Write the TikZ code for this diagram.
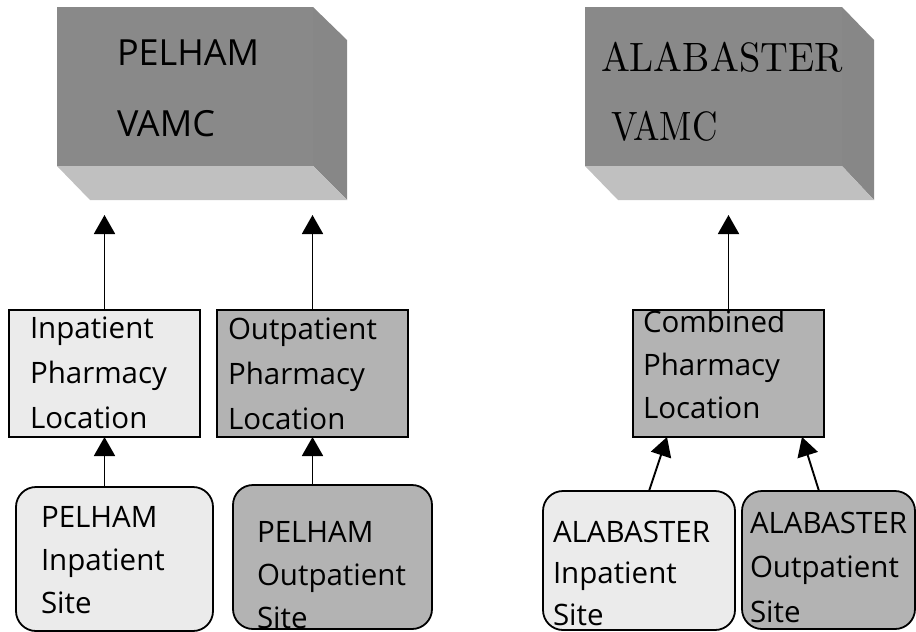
\documentclass[tikz,border=0pt]{standalone}
\usepackage{fontspec}
\usepackage{graphicx}
\newfontfamily\uifont{Open Sans}
\newfontfamily\lmten{lmroman10-regular.otf}
\usetikzlibrary{arrows.meta}
\definecolor{boxfront}{HTML}{898989}
\definecolor{boxside}{HTML}{878787}
\definecolor{boxbottom}{HTML}{C0C0C0}
\definecolor{lightfill}{HTML}{EBEBEB}
\definecolor{midfill}{HTML}{B3B3B3}
\tikzset{
  front/.style={fill=boxfront, inner sep=0pt, outer sep=0pt, minimum width=256pt, minimum height=159pt},
  locbox/.style={draw=black, line width=1.8pt, inner sep=0pt, outer sep=0pt, minimum width=191pt, minimum height=127pt},
  sitebox/.style={draw=black, line width=1.8pt, rounded corners=20pt, inner sep=0pt, outer sep=0pt},
  txt/.style={inner sep=0pt, outer sep=0pt, anchor=north west, align=left, text=black},
  ui/.style={font={\uifont\fontsize{29.5}{#1}\selectfont}},
  arr/.style={line width=1.9pt, -{Triangle[length=19pt,width=21pt]}},
}
\begin{document}
\begin{tikzpicture}[x=1pt,y=-1pt]
\useasboundingbox (0,0) rectangle (916,632);
% ---- PELHAM VAMC 3D box
\node[front] (pv) at (185,86.5) {};
\fill[boxside] (pv.north east) -- ++(34,33) -- ++(0,160) -- (pv.south east) -- cycle;
\fill[boxbottom] (pv.south west) -- (pv.south east) -- ++(34,34) -- ++(-257,0) -- cycle;
\node[txt, font={\uifont\fontsize{36}{71}\selectfont}] (pvt) at (117,65-30) {\rule{0pt}{30pt}PELHAM\\VAMC};
% ---- ALABASTER VAMC 3D box
\node[front, minimum width=257pt] (av) at (713.5,86.5) {};
\fill[boxside] (av.north east) -- ++(32,33) -- ++(0,160) -- (av.south east) -- cycle;
\fill[boxbottom] (av.south west) -- (av.south east) -- ++(32,34) -- ++(-256,0) -- cycle;
\node[txt, font={\lmten\fontsize{41}{69}\selectfont}] (avt) at (601,71-35) {\rule{0pt}{35pt}\scalebox{0.94}[1]{ALABASTER}\\\hspace*{10pt}\scalebox{0.86}[1]{VAMC}};
% ---- target level under the 3D boxes
\coordinate (ptip) at (0,215);
% ---- location boxes
\node[locbox, fill=lightfill] (ipl) at (104.5,373.5) {};
\node[txt, ui=45] (iplt) at (30,338-32) {\rule{0pt}{32pt}Inpatient\\Pharmacy\\Location};
\node[locbox, fill=midfill] (opl) at (312.5,373.5) {};
\node[txt, ui=45] (oplt) at (228,339-32) {\rule{0pt}{32pt}Outpatient\\Pharmacy\\Location};
\node[locbox, fill=midfill] (cpl) at (728.5,373.5) {};
\node[txt, ui=43] (cplt) at (643,332-32) {\rule{0pt}{32pt}Combined\\Pharmacy\\Location};
% ---- site boxes
\node[sitebox, fill=lightfill, minimum width=197pt, minimum height=144pt] (pis) at (114.5,559) {};
\node[txt, ui=43] (pist) at (41,527-32) {\rule{0pt}{32pt}PELHAM\\Inpatient\\Site};
\node[sitebox, fill=midfill, minimum width=199pt, minimum height=144pt] (pos) at (332.5,557) {};
\node[txt, ui=43] (post) at (257,542-32) {\rule{0pt}{32pt}PELHAM\\Outpatient\\Site};
\node[sitebox, fill=lightfill, minimum width=192pt, minimum height=139pt] (ais) at (639,560.5) {};
\node[txt, ui=41.5] (aist) at (553,542-32) {\rule{0pt}{32pt}ALABASTER\\Inpatient\\Site};
\node[sitebox, fill=midfill, minimum width=173pt, minimum height=138pt] (aos) at (828.5,560) {};
\node[txt, ui=44.5] (aost) at (750,533-32) {\rule{0pt}{32pt}ALABASTER\\Outpatient\\Site};
% ---- connectors
\draw[arr] (ipl.north) -- (ipl.north |- ptip);
\draw[arr] (opl.north) -- (opl.north |- ptip);
\draw[arr] (cpl.north) -- (cpl.north |- ptip);
\draw[arr] (ipl.south |- pis.north) -- (ipl.south);
\draw[arr] (opl.south |- pos.north) -- (opl.south);
\draw[arr] ([xshift=10pt]ais.north) -- ([xshift=-61.5pt]cpl.south);
\draw[arr] ([xshift=-9.5pt]aos.north) -- ([xshift=73.5pt]cpl.south);
\end{tikzpicture}
\end{document}
